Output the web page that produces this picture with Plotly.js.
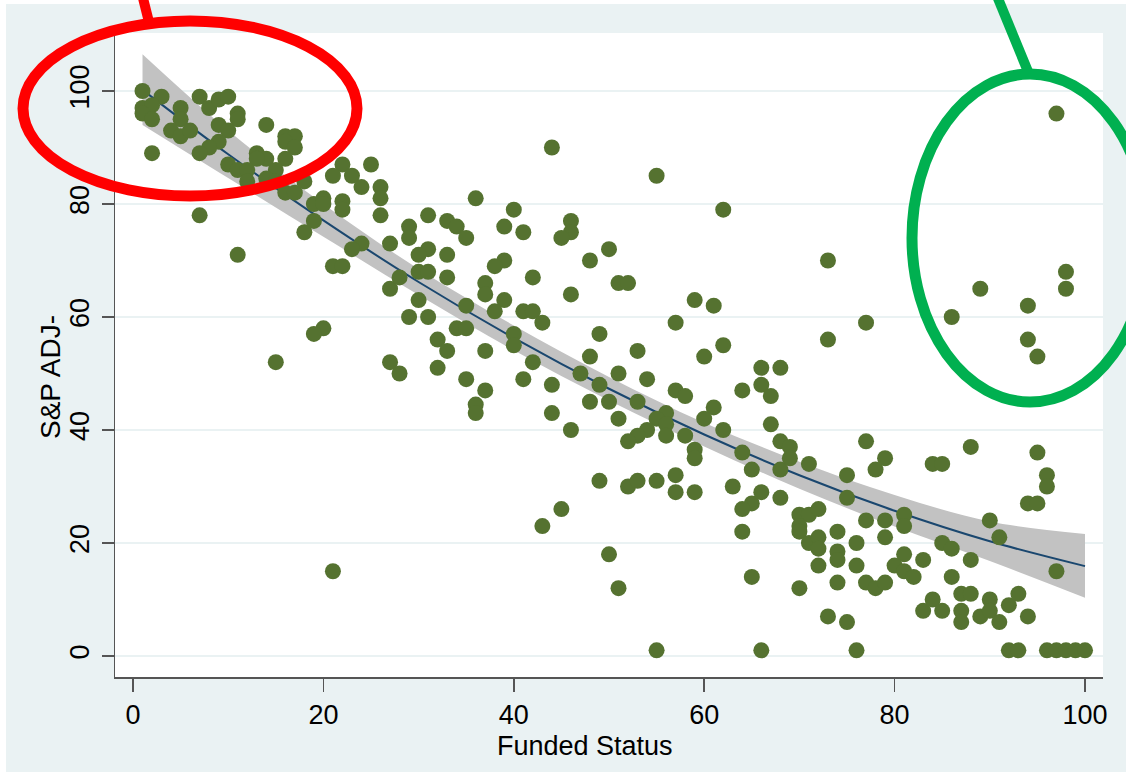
<!DOCTYPE html>
<html>
<head>
<meta charset="utf-8">
<script src="https://cdn.plot.ly/plotly-3.0.1.min.js"></script>
<style>
  html, body { margin:0; padding:0; background:#ffffff; }
  #chart { width:1126px; height:772px; }
</style>
</head>
<body>
<div id="chart"></div>
<script>
// ---- Data ----
const fundedStatus = [
  1,3,1,2,1,2,2,5,5,4,5,6,7,8,9,10,11,11,9,10,9,8,7,14,16,17,16,17,13,14,13,16,10,11,12,15,12,14,15,16,17,18,7,11,19,20,20,19,18,22,25,21,23,24,26,26,26,22,22,27,24,23,
  21,22,27,28,20,19,15,27,28,21,
  44,55,62,36,40,39,41,46,46,45,50,31,33,34,35,29,29,31,30,33,39,48,
  30,31,33,38,37,37,39,38,42,51,52,46,30,29,31,35,34,35,32,33,32,35,37,36,36,37,41,42,43,40,40,42,41,44,44,46,49,48,47,49,48,50,51,51,53,54,53,57,59,61,60,62,57,58,61,60,62,56,55,56,56,54,53,52,58,59,59,64,66,66,67,67,64,65,68,68,49,52,53,55,57,57,59,63,65,64,66,45,
  73,73,77,86,89,94,94,95,98,98,68,69,69,71,75,75,77,79,78,84,85,88,95,96,96,94,95,68,
  70,71,72,70,70,71,72,72,72,70,74,74,74,74,73,75,76,76,76,77,77,78,79,79,79,81,81,81,80,81,82,83,85,86,88,86,83,84,85,87,88,87,87,89,90,90,91,92,93,94,90,91,97,92,93,96,97,98,99,100,66,
  43,50,51,55,64,65,97
];
const spAdj = [
  100,99,97,97.5,96,95,89,97,95,93,92,93,99,97,98.5,99,96,95,94,93,91,90,89,94,92,92,91,90,89,88,88,88,87,86,86,86,84,84.5,84,82,82,84,78,71,80,81,80,77,75,87,87,85,85,83,83,81,78,80.5,79,73,73,72,
  69,69,65,67,58,57,52,52,50,15,
  90,85,79,81,79,76,75,77,75,74,72,78,77,76,74,76,74,72,71,71,70,70,
  68,68,67,69,66,64,63,61,67,66,66,64,63,60,60,62,58,58,56,54,51,49,47,44.5,43,54,61,61,59,57,55,52,49,48,43,40,57,53,50,48,45,45,50,42,54,49,45,59,63,62,53,55,47,46,44,42,40,43,42,41,39,40,39,38,39,36.5,35,47,51,48,46,41,36,33,51,33,31,30,31,31,32,29,29,30,27,26,29,26,
  70,56,59,60,65,62,56,53,68,65,38,37,35,34,32,28,38,35,33,34,34,37,36,32,30,27,27,28,
  25,25,26,23,22,20,21,19,16,12,22,18.5,17,13,7,6,20,16,1,24,13,12,13,24,21,25,23,18,16,15,14,17,20,19,17,14,8,10,8,11,11,8,6,7,10,8,6,9,11,7,24,21,15,1,1,1,1,1,1,1,1,
  23,18,12,1,22,14,96
];

// Fitted quadratic line and its confidence band, read at every 10 units
const fitX    = [1, 10, 20, 30, 40, 50, 60, 70, 80, 90, 100];
const fitY    = [100.2, 88.8, 77.1, 66.2, 56.3, 47.3, 39.2, 32.0, 25.7, 20.3, 15.9];
const ciHigh  = [106.5, 93.0, 80.0, 68.5, 58.5, 49.4, 41.3, 34.4, 28.5, 23.8, 21.6];
const ciLow   = [94.0, 84.6, 74.2, 63.9, 54.1, 45.2, 37.1, 29.6, 22.9, 16.8, 10.3];

const xTicks = [0, 20, 40, 60, 80, 100];
const yTicks = [0, 20, 40, 60, 80, 100];
const xTitle = 'Funded Status';
const yTitle = 'S&P ADJ-';

// ---- Traces ----
const traces = [
  { x: fitX, y: ciLow, type: 'scatter', mode: 'lines',
    line: { width: 0, shape: 'spline', color: 'rgba(0,0,0,0)' }, hoverinfo: 'skip' },
  { x: fitX, y: ciHigh, type: 'scatter', mode: 'lines', fill: 'tonexty',
    fillcolor: '#c2c2c2', line: { width: 0, shape: 'spline', color: 'rgba(0,0,0,0)' }, hoverinfo: 'skip' },
  { x: fitX, y: fitY, type: 'scatter', mode: 'lines',
    line: { width: 2, shape: 'spline', color: '#1a476f' } },
  { x: fundedStatus, y: spAdj, type: 'scatter', mode: 'markers',
    marker: { size: 16, color: '#557230', line: { width: 0 } } }
];

// pixel helpers for overlay shapes (plot area 115..1103 x 33..677)
const px = v => (v - 115) / 988;
const py = v => (677 - v) / 644;

const layout = {
  width: 1126, height: 772,
  margin: { l: 115, r: 23, t: 33, b: 95, pad: 0 },
  paper_bgcolor: '#eaf2f3',
  plot_bgcolor: '#ffffff',
  showlegend: false,
  font: { family: 'Liberation Sans, Arial, sans-serif', size: 27, color: '#000000' },
  xaxis: {
    range: [-1.89, 101.89], tickvals: xTicks, ticktext: xTicks.map(String),
    ticks: 'outside', ticklen: 13, tickwidth: 1.5, tickcolor: '#555555',
    showline: true, linecolor: '#555555', linewidth: 1.5,
    showgrid: false, zeroline: false, ticklabelstandoff: 0
  },
  yaxis: {
    range: [-3.72, 110.27], tickvals: yTicks, ticktext: yTicks.map(String),
    tickangle: -90,
    ticks: 'outside', ticklen: 12, tickwidth: 1.5, tickcolor: '#555555',
    showline: true, linecolor: '#555555', linewidth: 1.5,
    showgrid: true, gridcolor: '#eaf2f3', gridwidth: 2, zeroline: false,
    ticklabelstandoff: 2
  },
  annotations: [
    { text: xTitle, xref: 'paper', yref: 'paper', x: px(585), y: py(746),
      xanchor: 'center', yanchor: 'middle', showarrow: false,
      font: { size: 27, color: '#000' } },
    { text: yTitle, xref: 'paper', yref: 'paper', x: px(50), y: py(377),
      xanchor: 'center', yanchor: 'middle', showarrow: false, textangle: -90,
      font: { size: 28, color: '#000' } }
  ],
  shapes: [
    // white border strips of the original image
    { type: 'rect', xref: 'paper', yref: 'paper', layer: 'below',
      x0: px(0), x1: px(6), y0: py(772), y1: py(0), fillcolor: '#ffffff', line: { width: 0 } },
    { type: 'rect', xref: 'paper', yref: 'paper', layer: 'below',
      x0: px(0), x1: px(1126), y0: py(4), y1: py(0), fillcolor: '#ffffff', line: { width: 0 } },
    // red callout
    { type: 'line', xref: 'paper', yref: 'paper', x0: px(142), y0: py(-6), x1: px(149), y1: py(22),
      line: { color: '#ff0000', width: 10 } },
    { type: 'circle', xref: 'paper', yref: 'paper', x0: px(23), x1: px(357), y0: py(196), y1: py(21),
      line: { color: '#ff0000', width: 11 } },
    // green callout
    { type: 'line', xref: 'paper', yref: 'paper', x0: px(997), y0: py(-4), x1: px(1029), y1: py(74),
      line: { color: '#00b050', width: 10 } },
    { type: 'circle', xref: 'paper', yref: 'paper', x0: px(912), x1: px(1148), y0: py(402), y1: py(74),
      line: { color: '#00b050', width: 11 } }
  ]
};

Plotly.newPlot('chart', traces, layout, { displayModeBar: false, staticPlot: true });
</script>
</body>
</html>
